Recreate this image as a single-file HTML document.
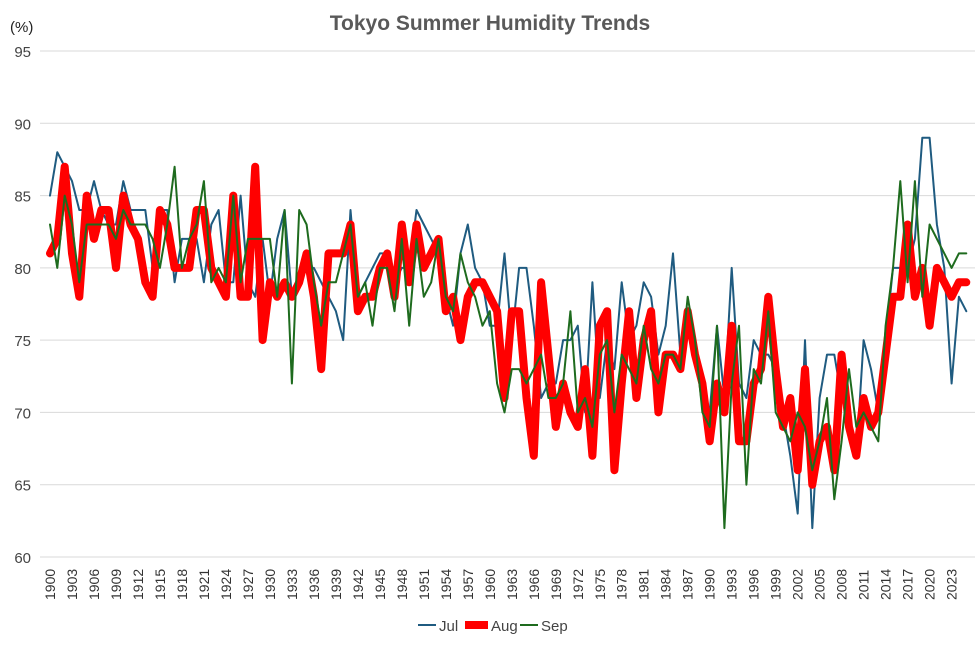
<!DOCTYPE html>
<html><head><meta charset="utf-8"><style>
body{margin:0;background:#fff;font-family:"Liberation Sans",sans-serif;}
svg text{font-family:"Liberation Sans",sans-serif;}
</style></head><body>
<svg id="chart" width="980" height="643" xmlns="http://www.w3.org/2000/svg">
<text x="490" y="30" text-anchor="middle" font-size="21" font-weight="bold" fill="#595959">Tokyo Summer Humidity Trends</text>
<text x="10" y="32" font-size="15" fill="#222">(%)</text>
<g id="grid"></g><g id="ylabels"></g><g id="xlabels"></g><g id="series"></g>
<g>
<line x1="418" y1="625" x2="436" y2="625" stroke="#1f5b80" stroke-width="2"/>
<text x="439" y="631" font-size="15" fill="#444">Jul</text>
<line x1="465" y1="625" x2="488" y2="625" stroke="#ff0000" stroke-width="8"/>
<text x="491" y="631" font-size="15" fill="#444">Aug</text>
<line x1="520" y1="625" x2="538" y2="625" stroke="#1e6b1e" stroke-width="2"/>
<text x="541" y="631" font-size="15" fill="#444">Sep</text>
</g>
</svg>
<script>
const startYear = 1900;
const yTicks = [60,65,70,75,80,85,90,95];
const jul = [85,88,87,86,84,84,86,84,83,83, 86,84,84,84,80,84,84,79,82,82, 82,79,83,84,79,79,85,79,78,82, 78,82,84,78,79,80,80,79,78,77, 75,84,78,79,80,81,81,79,80,80, 84,83,82,81,78,76,81,83,80,79, 76,76,81,75,80,80,76,71,72,72, 75,75,76,70,79,71,75,73,79,75, 76,79,78,74,76,81,74,77,75,72, 70,76,71,80,72,71,75,74,74,73, 70,67,63,75,62,71,74,74,71,70, 67,75,73,70,75,80,80,80,82,89, 89,83,80,72,78,77];
const aug = [81,82,87,81,78,85,82,84,84,80, 85,83,82,79,78,84,83,80,80,80, 84,84,80,79,78,85,78,78,87,75, 79,78,79,78,79,81,78,73,81,81, 81,83,77,78,78,80,81,78,83,79, 83,80,81,82,77,78,75,78,79,79, 78,77,71,77,77,71,67,79,74,69, 72,70,69,73,67,76,77,66,72,77, 71,75,77,70,74,74,73,77,74,72, 68,72,70,76,68,68,72,73,78,73, 69,71,66,73,65,68,69,66,74,69, 67,71,69,70,74,78,78,83,78,80, 76,80,79,78,79,79];
const sep = [83,80,85,83,79,83,83,83,83,82, 84,83,83,83,82,80,83,87,80,82, 83,86,79,80,79,85,79,82,82,82, 82,78,84,72,84,83,79,76,79,79, 81,83,78,79,76,80,80,77,82,76, 82,78,79,82,78,77,81,79,78,76, 77,72,70,73,73,72,73,74,71,71, 72,77,70,71,69,74,75,70,74,73, 72,76,73,72,74,74,73,78,75,70, 69,76,62,72,76,65,73,72,77,70, 69,68,70,69,66,68,71,64,68,73, 69,70,69,68,76,80,86,79,86,78, 83,82,81,80,81,81];

const NS="http://www.w3.org/2000/svg";
const x0=50, dx=7.33, yTop=51, yBot=557, vMin=60, vMax=95;
function xs(i){return x0+i*dx;}
function ys(v){return yBot-(v-vMin)/(vMax-vMin)*(yBot-yTop);}
function mk(tag,attrs,parent){const e=document.createElementNS(NS,tag);for(const k in attrs)e.setAttribute(k,attrs[k]);parent.appendChild(e);return e;}
const grid=document.getElementById('grid'), yl=document.getElementById('ylabels'), xl=document.getElementById('xlabels'), sg=document.getElementById('series');
yTicks.forEach(v=>{
  const l=mk('line',{x1:40,x2:975,y1:ys(v),y2:ys(v),stroke:'#d9d9d9','stroke-width':1},grid);
  
  
  const t=mk('text',{x:31,y:ys(v)+6,'text-anchor':'end','font-size':15,fill:'#444'},yl);
  t.textContent=v;
  
  
});
for(let i=0;i<aug.length;i+=3){
  const yr=startYear+i, x=xs(i)+5;
  const t=mk('text',{x:x,y:600,'text-anchor':'start','font-size':14,fill:'#333',transform:`rotate(-90 ${x} 600)`},xl);
  t.textContent=yr;
  
  
}
function line(data,color,w,name){
  const p=mk('polyline',{points:data.map((v,i)=>xs(i).toFixed(1)+','+ys(v).toFixed(1)).join(' '),fill:'none',stroke:color,'stroke-width':w,'stroke-linejoin':'round','stroke-linecap':'round'},sg);
  
  
}
line(jul,'#1f5b80',2,'series-jul');
line(aug,'#ff0000',8,'series-aug');
line(sep,'#1e6b1e',2,'series-sep');
</script>
</body></html>
